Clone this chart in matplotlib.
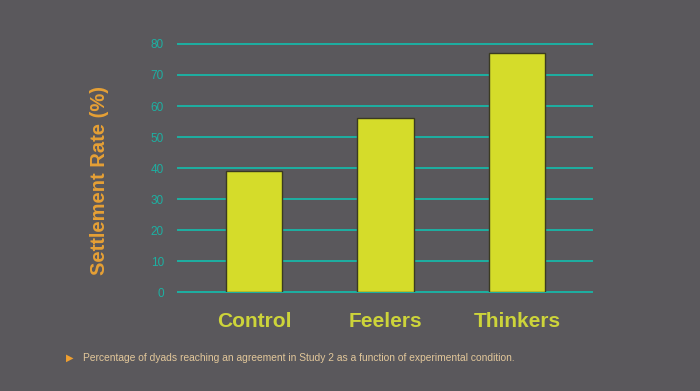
import matplotlib.pyplot as plt

plt.rcParams['font.family'] = ['Liberation Sans', 'DejaVu Sans']

categories = ['Control', 'Feelers', 'Thinkers']
settlement_rate = [39, 56, 77]
y_ticks = [0, 10, 20, 30, 40, 50, 60, 70, 80]
caption = 'Percentage of dyads reaching an agreement in Study 2 as a function of experimental condition.'

bg = '#5a585c'
teal = '#1db0a2'
bar_col = '#d5dc2a'

fig = plt.figure(figsize=(7, 3.91), dpi=100, facecolor=bg)
ax = fig.add_axes([0.254, 0.253, 0.592, 0.6345], facecolor=bg)

for t in y_ticks:
    ax.axhline(t, color=teal, lw=1.4, zorder=1, clip_on=False)

ax.bar(range(len(categories)), settlement_rate, width=0.43, color=bar_col,
       edgecolor='#3a3a22', linewidth=1.0, zorder=2)

ax.set_xlim(-0.58, 2.57)
ax.set_ylim(0, 80)
ax.set_yticks(y_ticks)
ax.set_yticklabels([str(t) for t in y_ticks], color=teal, fontsize=8.5)
ax.tick_params(axis='y', length=0, pad=10)
ax.set_xticks(range(len(categories)))
ax.set_xticklabels(categories, color='#cdd43a', fontsize=15, fontweight='bold')
ax.tick_params(axis='x', length=0, pad=14)
for s in ax.spines.values():
    s.set_visible(False)

ax.set_ylabel('Settlement Rate (%)', color='#e6a035', fontsize=14.5, fontweight='bold')
ax.yaxis.set_label_coords(-0.165, 0.45)

fig.text(0.094, 0.084, '\u25B6', color='#f0a030', fontsize=7, va='center', ha='left')
fig.text(0.118, 0.084, caption, color='#e2c79a', fontsize=7.4, va='center', ha='left')

fig.savefig('out.png', dpi=100, facecolor=bg)
